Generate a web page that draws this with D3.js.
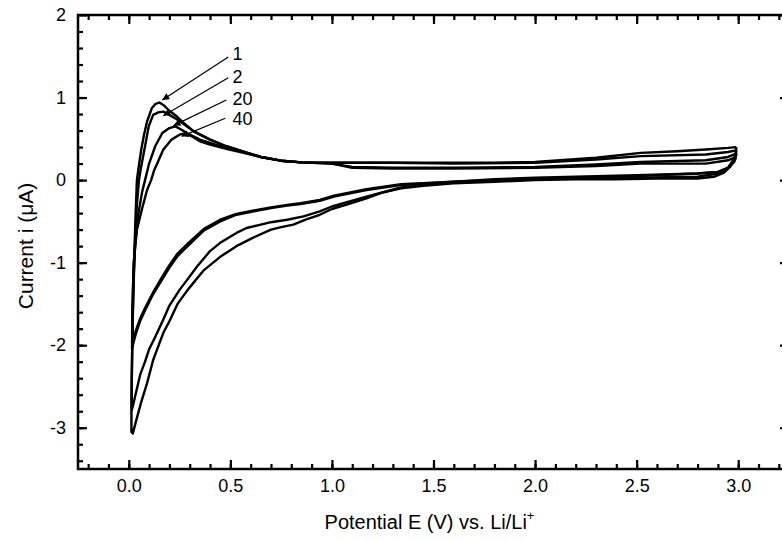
<!DOCTYPE html>
<html>
<head>
<meta charset="utf-8">
<script src="https://cdn.jsdelivr.net/npm/d3@7"></script>
<style>
  body { margin: 0; background: #fff; }
  text { font-family: "Liberation Sans", Arial, Helvetica, sans-serif; fill: #000; }
</style>
</head>
<body>
<div id="chart"></div>
<script>
/* Cyclic voltammograms, cycles 1, 2, 20 and 40 */

// cycle names and the [E (V), i (uA)] points of each loop,
// starting at 3.0 V, sweeping down to ~0 V and back up
const cycleNames = ["1", "2", "20", "40"];

const cycle1 = [
  [2.99, 0.40], [2.99, 0.30], [2.96, 0.16], [2.93, 0.09], [2.88, 0.04], [2.80, 0.02],
  [2.60, 0.02], [2.40, 0.01], [2.20, 0.01], [2.00, 0.00], [1.80, -0.02], [1.60, -0.04],
  [1.45, -0.07], [1.34, -0.10], [1.25, -0.15], [1.17, -0.22], [1.08, -0.29], [1.00, -0.35],
  [0.94, -0.42], [0.87, -0.48], [0.81, -0.54], [0.75, -0.57], [0.70, -0.60], [0.61, -0.70],
  [0.53, -0.80], [0.45, -0.93], [0.37, -1.09], [0.29, -1.33], [0.24, -1.50], [0.20, -1.71],
  [0.17, -1.85], [0.12, -2.18], [0.09, -2.46], [0.06, -2.70], [0.04, -2.88], [0.025, -3.02],
  [0.02, -3.07], [0.013, -3.05],
  [0.013, -2.70], [0.016, -2.20], [0.020, -1.60], [0.026, -1.00], [0.033, -0.45], [0.040, 0.00],
  [0.050, 0.18], [0.062, 0.38], [0.075, 0.55], [0.090, 0.71], [0.113, 0.87], [0.13, 0.92],
  [0.15, 0.94], [0.17, 0.91], [0.20, 0.84], [0.237, 0.77], [0.28, 0.67], [0.32, 0.59],
  [0.40, 0.49], [0.48, 0.41], [0.565, 0.345], [0.65, 0.28], [0.75, 0.235], [0.85, 0.215],
  [1.00, 0.21], [1.20, 0.21], [1.50, 0.21], [1.80, 0.21], [2.00, 0.22], [2.30, 0.27],
  [2.52, 0.33], [2.70, 0.35], [2.84, 0.37], [2.95, 0.39], [2.99, 0.40]
];

const cycle2 = [
  [2.99, 0.36], [2.98, 0.26], [2.95, 0.15], [2.90, 0.08], [2.80, 0.04], [2.50, 0.03],
  [2.20, 0.02], [2.00, 0.01], [1.80, -0.01], [1.60, -0.03], [1.45, -0.06], [1.34, -0.09],
  [1.17, -0.20], [1.00, -0.32], [0.94, -0.38], [0.86, -0.44], [0.78, -0.48], [0.70, -0.51],
  [0.65, -0.54], [0.58, -0.58], [0.53, -0.64], [0.45, -0.76], [0.40, -0.86], [0.335, -1.05],
  [0.29, -1.20], [0.25, -1.33], [0.20, -1.52], [0.17, -1.69], [0.13, -1.90], [0.10, -2.05],
  [0.08, -2.20], [0.057, -2.35], [0.035, -2.58], [0.02, -2.74], [0.015, -2.78],
  [0.014, -2.50], [0.017, -2.00], [0.022, -1.40], [0.030, -0.80], [0.040, -0.30], [0.050, 0.00],
  [0.060, 0.15], [0.080, 0.41], [0.098, 0.65], [0.12, 0.79], [0.145, 0.82], [0.17, 0.83],
  [0.20, 0.79], [0.24, 0.73], [0.27, 0.68], [0.32, 0.59], [0.40, 0.49], [0.48, 0.41],
  [0.565, 0.345], [0.65, 0.28], [0.75, 0.235], [0.85, 0.215], [1.00, 0.21], [1.30, 0.21],
  [1.60, 0.20], [2.00, 0.21], [2.30, 0.25], [2.52, 0.29], [2.84, 0.31], [2.95, 0.34],
  [2.99, 0.36]
];

const cycle20 = [
  [2.99, 0.32], [2.98, 0.24], [2.95, 0.15], [2.90, 0.10], [2.80, 0.08], [2.50, 0.05],
  [2.20, 0.03], [2.00, 0.02], [1.80, 0.00], [1.60, -0.02], [1.34, -0.06], [1.17, -0.12],
  [1.01, -0.20], [0.94, -0.25], [0.845, -0.29], [0.78, -0.31], [0.70, -0.34], [0.61, -0.38],
  [0.53, -0.42], [0.45, -0.50], [0.37, -0.61], [0.29, -0.80], [0.24, -0.92], [0.20, -1.06],
  [0.16, -1.22], [0.12, -1.38], [0.08, -1.58], [0.057, -1.70], [0.035, -1.86], [0.022, -1.98],
  [0.016, -2.05],
  [0.017, -1.70], [0.022, -1.20], [0.032, -0.75], [0.048, -0.40], [0.065, -0.15], [0.080, 0.00],
  [0.100, 0.20], [0.130, 0.41], [0.165, 0.57], [0.20, 0.63], [0.229, 0.65], [0.26, 0.61],
  [0.286, 0.57], [0.35, 0.49], [0.40, 0.45], [0.48, 0.39], [0.565, 0.335], [0.65, 0.28],
  [0.75, 0.235], [0.85, 0.215], [1.00, 0.20], [1.10, 0.16], [1.30, 0.15], [1.60, 0.15],
  [2.00, 0.16], [2.30, 0.19], [2.52, 0.22], [2.84, 0.24], [2.95, 0.28], [2.99, 0.32]
];

const cycle40 = [
  [2.99, 0.28], [2.98, 0.22], [2.95, 0.14], [2.90, 0.10], [2.80, 0.08], [2.50, 0.06],
  [2.20, 0.04], [2.00, 0.03], [1.80, 0.01], [1.60, -0.02], [1.34, -0.05], [1.17, -0.11],
  [1.01, -0.19], [0.94, -0.24], [0.845, -0.28], [0.78, -0.30], [0.70, -0.33], [0.61, -0.37],
  [0.53, -0.41], [0.45, -0.48], [0.37, -0.59], [0.29, -0.77], [0.24, -0.89], [0.20, -1.03],
  [0.16, -1.19], [0.12, -1.36], [0.08, -1.55], [0.057, -1.67], [0.035, -1.82], [0.022, -1.94],
  [0.017, -1.98],
  [0.018, -1.60], [0.024, -1.00], [0.040, -0.60], [0.065, -0.35], [0.090, -0.12], [0.110, 0.00],
  [0.125, 0.12], [0.140, 0.20], [0.170, 0.37], [0.21, 0.49], [0.25, 0.55], [0.278, 0.57],
  [0.31, 0.53], [0.35, 0.47], [0.40, 0.43], [0.48, 0.38], [0.565, 0.33], [0.65, 0.28],
  [0.75, 0.235], [0.85, 0.215], [1.00, 0.20], [1.10, 0.15], [1.30, 0.14], [1.60, 0.14],
  [2.00, 0.15], [2.30, 0.17], [2.52, 0.20], [2.84, 0.20], [2.95, 0.24], [2.99, 0.28]
];

const cycles = [cycle1, cycle2, cycle20, cycle40];

// tick values
const xMajor = [0, 0.5, 1, 1.5, 2, 2.5, 3];
const xMinor = d3.range(-2, 33).map(d => d / 10);
const yMajor = [-3, -2, -1, 0, 1, 2];
const yMinor = d3.range(-17, 10).map(d => d / 5);

// annotation: label spot, arrow start and arrow tip, in data units
const labelAt = [[0.51, 1.53], [0.51, 1.26], [0.51, 0.99], [0.51, 0.74]];
const arrowFrom = [[0.49, 1.49], [0.49, 1.24], [0.48, 0.97], [0.475, 0.75]];
const arrowTo = [[0.165, 0.97], [0.17, 0.78], [0.22, 0.66], [0.26, 0.53]];

const width = 782, height = 541,
      margin = ({top: 15, right: -7, bottom: 72, left: 78});

const svg = d3.select("#chart")
  .append("svg")
  .attr("width", width)
  .attr("height", height)
  .attr("viewBox", [0, 0, width, height]);

const x = d3.scaleLinear()
  .domain([-0.25, 3.25])
  .range([margin.left, width - margin.right]);

const y = d3.scaleLinear()
  .domain([-3.5, 2])
  .range([height - margin.bottom, margin.top]);

// four-sided axes with inward ticks
function ticks(axis, values, size) {
  return axis.tickValues(values).tickSizeInner(-size).tickSizeOuter(0).tickFormat("");
}

const x0 = height - margin.bottom, x1 = margin.top;
const y0 = margin.left, y1 = width - margin.right;

svg.append("g").attr("transform", `translate(0,${x0})`).call(ticks(d3.axisBottom(x), xMinor, 5));
svg.append("g").attr("transform", `translate(0,${x1})`).call(ticks(d3.axisTop(x), xMinor, 5));
svg.append("g").attr("transform", `translate(0,${x1})`).call(ticks(d3.axisTop(x), xMajor, 9));
svg.append("g").attr("transform", `translate(${y0},0)`).call(ticks(d3.axisLeft(y), yMinor, 5));
svg.append("g").attr("transform", `translate(${y1},0)`).call(ticks(d3.axisRight(y), yMinor, 5));
svg.append("g").attr("transform", `translate(${y1},0)`).call(ticks(d3.axisRight(y), yMajor, 9));

svg.append("g") // bottom axis with labels
  .attr("transform", `translate(0,${x0})`)
  .call(d3.axisBottom(x).tickValues(xMajor).tickSizeInner(-9).tickSizeOuter(0)
        .tickPadding(10).tickFormat(d3.format(".1f")))
  .call(g => g.selectAll("text").attr("font-size", 18));

svg.append("g") // left axis with labels
  .attr("transform", `translate(${y0},0)`)
  .call(d3.axisLeft(y).tickValues(yMajor).tickSizeInner(-9).tickSizeOuter(0)
        .tickPadding(12).tickFormat(d => String(d)))
  .call(g => g.selectAll("text").attr("font-size", 18).attr("x", -12));

svg.selectAll(".domain").remove();
svg.selectAll(".tick line").attr("stroke", "#000").attr("stroke-width", 2.2);
svg.selectAll(".tick text").attr("fill", "#000")
  .attr("font-family", "'Liberation Sans', Arial, Helvetica, sans-serif");

// frame
svg.append("rect")
  .attr("x", y0).attr("y", x1)
  .attr("width", y1 - y0).attr("height", x0 - x1)
  .attr("fill", "none").attr("stroke", "#000").attr("stroke-width", 2.5);

// the loops
const line = d3.line()
  .x(d => x(d[0]))
  .y(d => y(d[1]));

svg.append("g")
  .selectAll("path")
  .data(cycles)
  .join("path")
  .attr("d", line)
  .attr("fill", "none")
  .attr("stroke", "#000")
  .attr("stroke-width", 2.4)
  .attr("stroke-linejoin", "round");

// arrows to the peaks
svg.append("defs").append("marker")
  .attr("id", "head")
  .attr("viewBox", "0 0 10 10")
  .attr("refX", 10).attr("refY", 5)
  .attr("markerWidth", 12).attr("markerHeight", 7)
  .attr("markerUnits", "userSpaceOnUse")
  .attr("orient", "auto")
  .append("path")
  .attr("d", "M0,0L10,5L0,10Z")
  .attr("fill", "#000");

svg.append("g")
  .selectAll("line")
  .data(cycleNames)
  .join("line")
  .attr("x1", (d, i) => x(arrowFrom[i][0]))
  .attr("y1", (d, i) => y(arrowFrom[i][1]))
  .attr("x2", (d, i) => x(arrowTo[i][0]))
  .attr("y2", (d, i) => y(arrowTo[i][1]))
  .attr("stroke", "#000")
  .attr("stroke-width", 1.2)
  .attr("marker-end", "url(#head)");

svg.append("g")
  .selectAll("text")
  .data(cycleNames)
  .join("text")
  .attr("x", (d, i) => x(labelAt[i][0]))
  .attr("y", (d, i) => y(labelAt[i][1]))
  .attr("dy", "0.36em")
  .attr("font-size", 18)
  .text(d => d);

// axis titles
const xTitle = svg.append("text")
  .attr("x", (y0 + 789) / 2 - 4)
  .attr("y", 529)
  .attr("text-anchor", "middle")
  .attr("font-size", 20);
xTitle.append("tspan").text("Potential E (V) vs. Li/Li");
xTitle.append("tspan").attr("font-size", 13).attr("dy", -9).text("+");

svg.append("text")
  .attr("transform", `translate(33,${(x0 + x1) / 2 + 4}) rotate(-90)`)
  .attr("text-anchor", "middle")
  .attr("font-size", 21)
  .text("Current i (μA)");
</script>
</body>
</html>
